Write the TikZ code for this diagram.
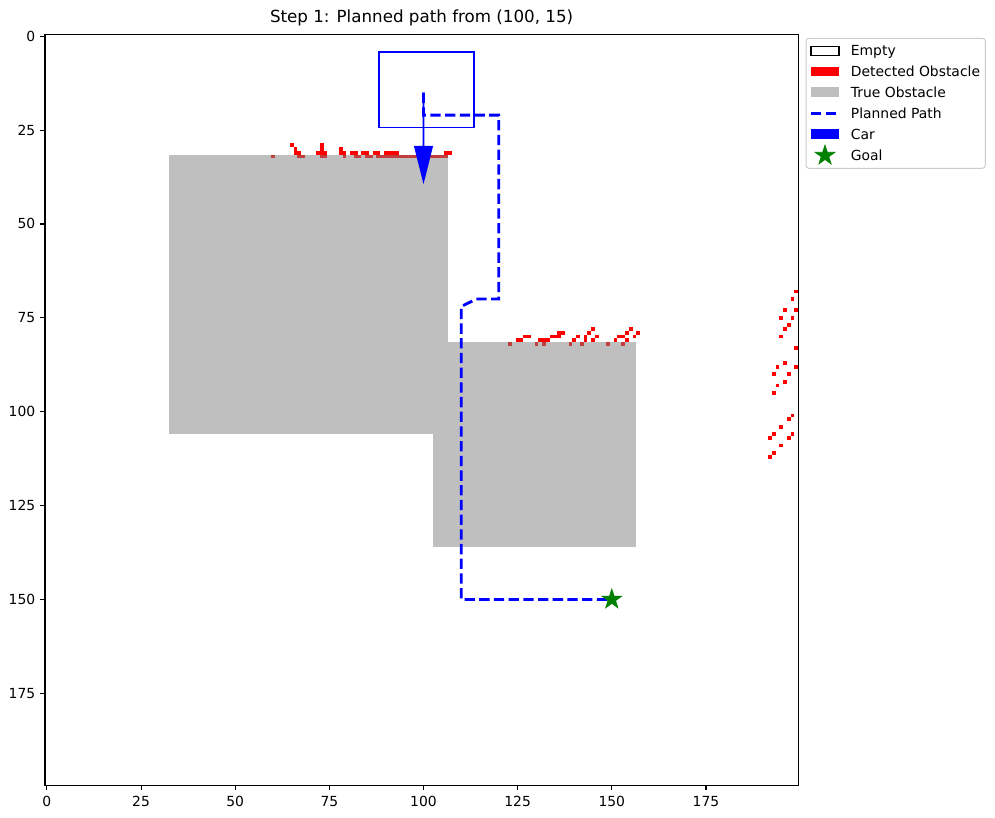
\documentclass[tikz,border=0pt]{standalone}
\usepackage{fontspec}
\setmainfont{DejaVu Sans}
\usetikzlibrary{shapes.geometric}
\definecolor{obsgray}{RGB}{191,191,191}
\definecolor{detred}{RGB}{255,0,0}
\definecolor{darkred}{RGB}{191,63,63}
\definecolor{carblue}{RGB}{0,0,255}
\definecolor{goalgreen}{RGB}{0,128,0}
\definecolor{legborder}{RGB}{204,204,204}
\tikzset{
  pathline/.style={carblue, line width=2.8pt, dash pattern=on 10.3pt off 4.4pt},
  axline/.style={black, line width=1.1pt},
  goalstar/.style={star, star points=5, star point ratio=2.618, fill=goalgreen, draw=goalgreen, line width=0.6pt, inner sep=0pt, minimum size=21pt},
  legtext/.style={anchor=base west, inner sep=0pt},
}
\begin{document}
\begin{tikzpicture}[x=1pt,y=-1pt, font=\fontsize{13.9}{16}\selectfont]
\useasboundingbox (0,0) rectangle (995,818);
\fill[white] (0,0) rectangle (995,818);
\begin{scope}[shift={(46.9,36.3)},x=3.766pt,y=-3.754pt]
  % true obstacles
  \fill[obsgray] (32.5,31.5) rectangle (106.5,106);
  \fill[obsgray] (102.5,81.5) rectangle (156.5,136);
  % detected obstacles (free space)
  \foreach \c/\r in {65/29,73/29,66/30,73/30,78/30,
     66/31,67/31,72/31,73/31,74/31,78/31,79/31,81/31,82/31,84/31,85/31,87/31,88/31,
     90/31,91/31,92/31,93/31,106/31,107/31,
     145/78,155/78,
     136/79,137/79,144/79,154/79,157/79,
     127/80,128/80,134/80,135/80,136/80,141/80,143/80,146/80,152/80,153/80,156/80,
     125/81,126/81,131/81,132/81,133/81,140/81,143/81,145/81,151/81,154/81,
     199/68,198/70,196/73,199/73,195/75,198/75,197/77,196/78,195/80,199/83,
     196/87,194/88,199/88,193/90,197/90,196/92,194/93,193/95,198/101,197/102,
     195/104,193/106,198/106,192/107,197/107,195/109,193/111,192/112}
    {\fill[detred] (\c-0.5,\r-0.5) rectangle ++(1,1);}
  % detected obstacles overlapping true obstacles
  \foreach \c/\r in {60/32,67/32,68/32,73/32,74/32,79/32,82/32,83/32,85/32,86/32,
     123/82,130/82,132/82,139/82,142/82,149/82,153/82}
    {\fill[darkred] (\c-0.5,\r-0.5) rectangle ++(1,1);}
  \fill[darkred] (87.5,31.5) rectangle (106.5,32.5);
  % car
  \draw[carblue, line width=1.4pt] (88.2,4.2) rectangle (113.4,24.3);
  % planned path
  \coordinate (start) at (100,15);
  \coordinate (goal) at (150,150);
  \draw[pathline] (start) -- (100,21) -- (120,21) -- (120,70) -- (114,70) -- (112,71) -- (110,72) -- (110,150) -- (goal);
  % heading arrow
  \fill[carblue] (99.75,15) -- (100.25,15) -- (100.25,29.2) -- (102.55,29.2) -- (100,39.4) -- (97.45,29.2) -- (99.75,29.2) -- cycle;
  % goal
  \node[goalstar] (goalmark) at (goal) {};
  % frame
  \draw[axline] (-0.5,-0.5) rectangle (199.5,199.5);
\end{scope}
% ticks
\foreach \v in {0,25,...,175}{
  \draw[axline] ({46.9+3.766*\v},785.2) -- ++(0,4.9);
  \node[anchor=base, inner sep=0pt] at ({46.9+3.766*\v},806) {\v};
  \draw[axline] (45,{36.3+3.754*\v}) -- ++(-4.9,0);
  \node[anchor=base east, inner sep=0pt] at (35.4,{36.3+3.754*\v+5}) {\v};
}
% title
\node[anchor=base, inner sep=0pt, font=\fontsize{16.7}{19}\selectfont] (title) at (421.6,23) {Step 1: Planned path from (100, 15)};
% legend
\draw[legborder, fill=white, rounded corners=3pt, line width=1pt] (806,38.3) rectangle (985.3,168.3);
\draw[black, line width=1.1pt] (811,46.2) rectangle (839,55.6);
\node[legtext] (l1) at (850.7,55.8) {Empty};
\fill[detred] (811,66.6) rectangle (839,76.2);
\node[legtext] (l2) at (850.7,76.6) {Detected Obstacle};
\fill[obsgray] (811,87.4) rectangle (839,97);
\node[legtext] (l3) at (850.7,97.5) {True Obstacle};
\draw[pathline] (811,113.3) -- (839,113.3);
\node[legtext] (l4) at (850.7,118.3) {Planned Path};
\fill[carblue] (811,129.2) rectangle (839,138.8);
\node[legtext] (l5) at (850.7,139.2) {Car};
\node[goalstar] (l6m) at (825,155.5) {};
\node[legtext] (l6) at (850.7,160.3) {Goal};
\end{tikzpicture}
\end{document}
